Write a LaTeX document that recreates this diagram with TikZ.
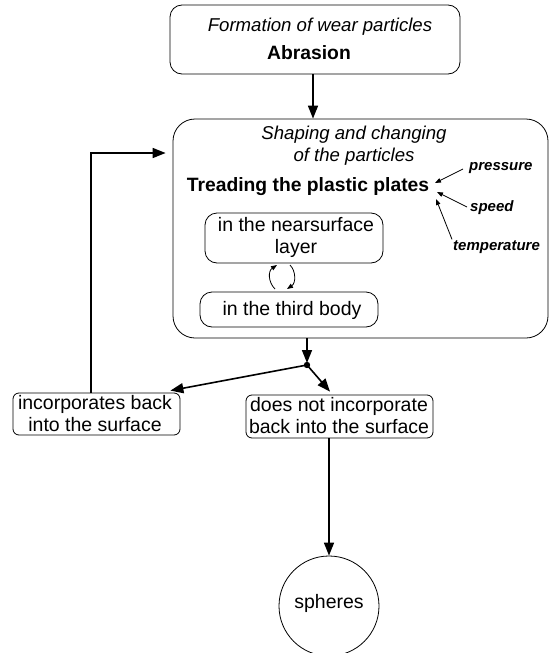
\documentclass[tikz,border=0pt]{standalone}
\usepackage{fontspec}
\setmainfont{Liberation Sans}
\usetikzlibrary{arrows.meta}
\tikzset{
  box/.style={draw, line width=0.8pt, rounded corners=#1, inner sep=0pt},
  box/.default=12pt,
  txt/.style={inner sep=0pt, align=center, font=\fontsize{19.5}{22}\selectfont},
  itx/.style={inner sep=0pt, align=center, font=\fontsize{18.6}{22}\selectfont\itshape},
  btx/.style={inner sep=0pt, align=center, font=\fontsize{19.3}{22}\selectfont\bfseries},
  sbi/.style={inner sep=0pt, font=\fontsize{15}{17}\selectfont\bfseries\itshape},
  arr/.style={line width=1.6pt, -{Triangle[length=13pt,width=10pt]}},
  sarr/.style={line width=0.8pt, -{Triangle[length=6pt,width=4.5pt]}},
}
\begin{document}
\begin{tikzpicture}[x=1pt,y=-1pt]
\useasboundingbox (0,0) rectangle (549,653);
% boxes
\node[box=12pt, minimum width=290pt, minimum height=69pt] (top) at (315,39.5) {};
\node[box=22pt, minimum width=375pt, minimum height=219pt] (big) at (360.5,228.5) {};
\node[box=12pt, minimum width=178pt, minimum height=50pt] (in1) at (294,238) {};
\node[box=12pt, minimum width=178pt, minimum height=35pt] (in2) at (289,309.5) {};
\node[box=6pt, minimum width=167pt, minimum height=42pt] (lbox) at (96.5,414) {};
\node[box=6pt, minimum width=187pt, minimum height=43pt] (rbox) at (339.5,416.5) {};
\node[draw, line width=0.8pt, circle, minimum size=100pt, inner sep=0pt] (circ) at (329,606) {};
% texts
\node[itx] (t1) at (320,27) {Formation of wear particles};
\node[btx] (t2) at (309,53) {Abrasion};
\node[itx] (t3) at (354,135) {Shaping and changing};
\node[itx] (t4) at (354,157) {of the particles};
\node[btx] (t5) at (308,187) {Treading the plastic plates};
\node[sbi, anchor=west] (pres) at (469,168) {pressure};
\node[sbi, anchor=west] (spd) at (470,208) {speed};
\node[sbi, anchor=west] (temp) at (453,247) {temperature};
\node[txt] (t6) at (296,237.5) {in the nearsurface\\layer};
\node[txt] (t7) at (292,310) {in the third body};
\node[txt] (t8) at (95,414) {incorporates back\\into the surface};
\node[txt] (t9) at (339,416) {does not incorporate\\back into the surface};
\node[txt] (t10) at (329,603) {spheres};
% connectors
\draw[arr] ([xshift=-2pt]top.south) -- ([xshift=-2pt]top.south |- big.north);
\coordinate (dot) at (307,365);
\fill (dot) circle (3.2pt);
\draw[arr, shorten >=2pt] (dot |- big.south) -- (dot);
\draw[arr] (dot) -- ([xshift=-10pt,yshift=2pt]lbox.north east);
\draw[arr] (dot) -- ([xshift=-9.5pt,yshift=3pt]rbox.north);
\draw[arr] (circ.north |- rbox.south) -- (circ.north);
\draw[arr, shorten >=7pt] ([xshift=-5.5pt]lbox.north) |- ([yshift=75.5pt]big.west);
% influence arrows
\coordinate (p1) at (435,183);
\coordinate (p2) at (437,192);
\coordinate (p3) at (436,199);
\draw[sarr] ([xshift=-6pt,yshift=-1pt]pres.west) -- (p1);
\draw[sarr] ([xshift=-3pt,yshift=1pt]spd.west) -- (p2);
\draw[sarr] ([xshift=-1pt,yshift=1pt]temp.north west) -- (p3);
% exchange arrows
\coordinate (a1) at (275,289);
\coordinate (a2) at (277,265);
\coordinate (b1) at (290,265);
\coordinate (b2) at (287,289);
\draw[sarr] (a1) .. controls (268,282) and (268,271) .. (a2);
\draw[sarr] (b1) .. controls (296,271) and (296,283) .. (b2);
\end{tikzpicture}
\end{document}
